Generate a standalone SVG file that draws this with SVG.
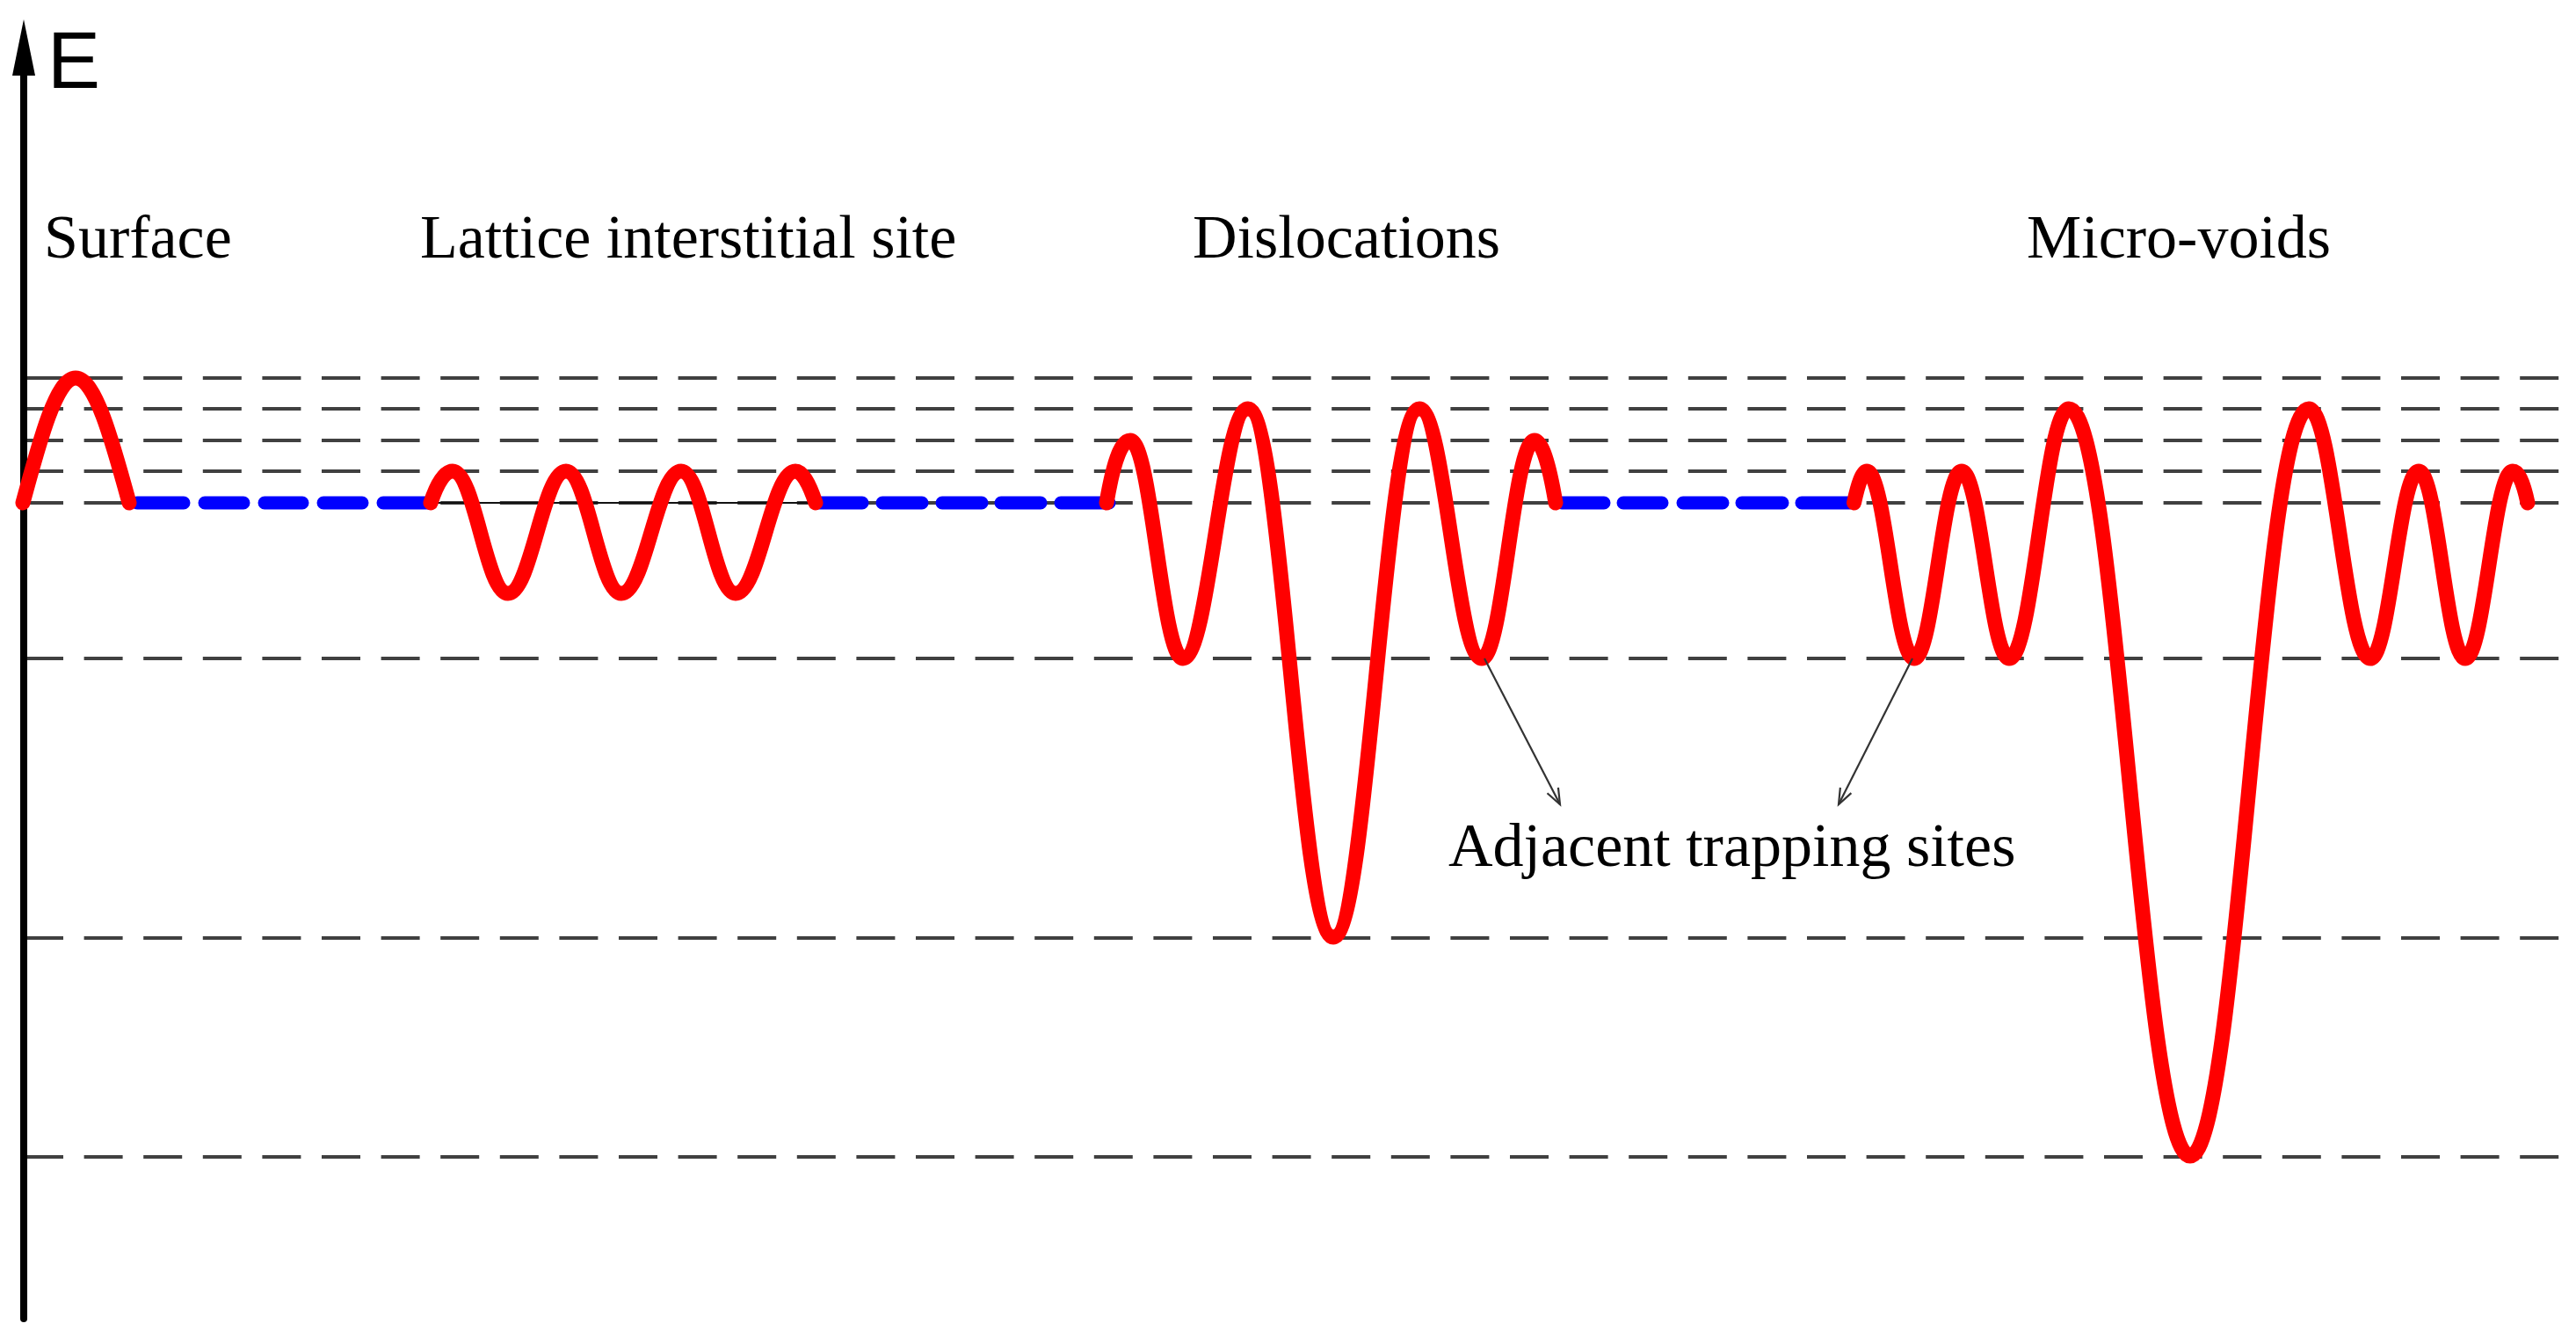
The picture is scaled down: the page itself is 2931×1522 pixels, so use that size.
<svg xmlns="http://www.w3.org/2000/svg" width="2931" height="1522" viewBox="0 0 2931 1522">
<style>
.lvl{stroke:#404040;stroke-width:3.8;stroke-dasharray:44 23.6;fill:none}
.base{stroke:#111;stroke-width:2.2;fill:none}
.red{stroke:#ff0000;stroke-width:17;fill:none;stroke-linecap:round;stroke-linejoin:round}
.blue{stroke:#0000ff;stroke-width:15;fill:none;stroke-linecap:round}
.lbl{font-family:"Liberation Serif","Times New Roman",serif;font-size:70px;fill:#000}
.axl{font-family:"Liberation Sans",Arial,sans-serif;font-size:90px;fill:#000}
.ptr{stroke:#333;stroke-width:2.2;fill:none}
</style>
<defs>
<marker id="vhead" markerUnits="userSpaceOnUse" markerWidth="24" markerHeight="20" viewBox="-2 -10 24 20" refX="18" refY="0" orient="auto">
<path d="M0,-7 L18,0 L0,7" fill="none" stroke="#333" stroke-width="2.2"/>
</marker>
</defs>
<g id="levels">
<line class="lvl" x1="28" y1="430" x2="2916" y2="430"/>
<line class="lvl" x1="28" y1="465" x2="2916" y2="465"/>
<line class="lvl" x1="28" y1="501" x2="2916" y2="501"/>
<line class="lvl" x1="28" y1="536" x2="2916" y2="536"/>
<line class="lvl" x1="28" y1="572" x2="2916" y2="572"/>
<line class="lvl" x1="28" y1="749" x2="2916" y2="749"/>
<line class="lvl" x1="28" y1="1067" x2="2916" y2="1067"/>
<line class="lvl" x1="28" y1="1316" x2="2916" y2="1316"/>
<line class="base" x1="497" y1="572" x2="928" y2="572"/>
</g>
<g id="axis">
<line x1="27" y1="1500" x2="27" y2="80" stroke="#000" stroke-width="8" stroke-linecap="round"/>
<polygon points="27,22 14,86 40,86" fill="#000"/>
<text class="axl" x="54" y="100">E</text>
</g>
<g id="diffusion-paths">
<path class="blue" d="M156,572 H209 M233,572 H277 M301,572 H344 M368,572 H412 M436,572 H490"/>
<path class="blue" d="M932,572 H981 M1004,572 H1049 M1072,572 H1117 M1139,572 H1184 M1207,572 H1262"/>
<path class="blue" d="M1777,572 H1825 M1847,572 H1891 M1915,572 H1960 M1982,572 H2028 M2050,572 H2105"/>
</g>
<g id="surface">
<path class="red" d="M26,572 C45.6,499.3 64.3,430 86,430 C108.1,430 127.1,499.3 147,572"/>
<text class="lbl" x="50" y="293">Surface</text>
</g>
<g id="lattice">
<path class="red" d="M490,572 C498.3,546.7 506.7,536 515,536 C540.2,536 552.8,675 578,675 C604.4,675 617.6,536 644,536 C669.2,536 681.8,675 707,675 C734.2,675 747.8,536 775,536 C799.8,536 812.2,675 837,675 C864.2,675 877.8,536 905,536 C912.7,536 920.3,549 928,572"/>
<text class="lbl" x="478" y="293">Lattice interstitial site</text>
</g>
<g id="dislocations">
<path class="red" d="M1259,572 C1268,519 1277,501 1286,501 C1310,501 1322,749 1346,749 C1375.6,749 1390.4,465 1420,465 C1458.8,465 1478.2,1066 1517,1066 C1556.2,1066 1575.8,465 1615,465 C1643.4,465 1657.6,749 1686,749 C1710,749 1722,501 1746,501 C1754,501 1762,525 1770,572"/>
<text class="lbl" x="1357" y="293">Dislocations</text>
</g>
<g id="micro-voids">
<path class="red" d="M2109.5,572 C2114.3,549.7 2119.2,536 2124,536 C2145.6,536 2156.4,749 2178,749 C2199.6,749 2210.4,536 2232,536 C2253.6,536 2264.4,749 2286,749 C2313.2,749 2326.8,465 2354,465 C2409.2,465 2436.8,1315 2492,1315 C2546,1315 2573,465 2627,465 C2655,465 2669,749 2697,749 C2719,749 2730,536 2752,536 C2773.2,536 2783.8,749 2805,749 C2826.6,749 2837.4,536 2859,536 C2864.7,536 2870.3,545.6 2876,572"/>
<text class="lbl" x="2306" y="293">Micro-voids</text>
</g>
<g id="connectors">
<line class="ptr" x1="1689" y1="749" x2="1775" y2="915" marker-end="url(#vhead)"/>
<line class="ptr" x1="2176" y1="749" x2="2092" y2="915" marker-end="url(#vhead)"/>
</g>
<g id="trap-label">
<text class="lbl" x="1648" y="985">Adjacent trapping sites</text>
</g>
</svg>
